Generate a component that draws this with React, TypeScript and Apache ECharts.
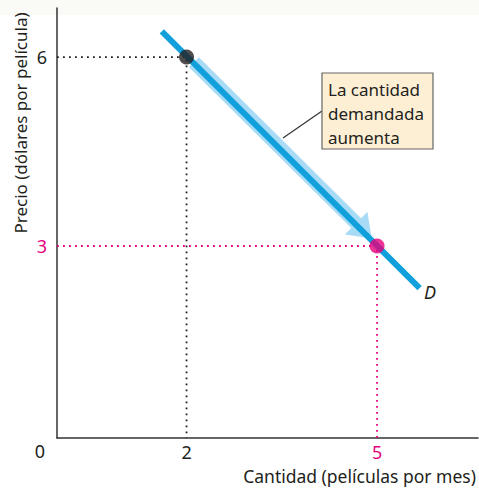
import React, { useEffect, useRef } from "react";
import * as echarts from "echarts";

// Data
const demandLine: number[][] = [
  [1.61, 6.41],
  [5.67, 2.33],
];
const pointA: number[] = [2, 6];
const pointB: number[] = [5, 3];
const arrowSeg: number[] = [2.1, 5.9, 4.9, 3.1];
const xTicks: number[] = [2, 5];
const yTicks: number[] = [3, 6];
const xMin = -0.04;
const yMin = -0.05;

const BLUE = "#12a0dc";
const LIGHT = "#a8dcf6";
const MAGENTA = "#e6007e";
const BLACK = "#231f20";
const FONT = "Noto Sans";

const richLabels = {
  k: { color: "#231f20", fontFamily: FONT, fontSize: 18 },
  m: { color: MAGENTA, fontFamily: FONT, fontSize: 18 },
};

export default function App() {
  const ref = useRef<HTMLDivElement>(null);
  useEffect(() => {
    if (!ref.current) return;
    const chart = echarts.init(ref.current, null, { renderer: "svg" });
    const option: any = {
      animation: false,
      backgroundColor: "#ffffff",
      grid: { left: 57, right: 0, top: 8, bottom: 55 },
      xAxis: {
        type: "value",
        min: xMin,
        max: 6.59,
        name: "Cantidad (películas por mes)",
        nameLocation: "end",
        nameGap: -2,
        nameTextStyle: {
          fontFamily: FONT,
          fontSize: 17.5,
          color: "#231f20",
          align: "right",
          verticalAlign: "top",
          padding: [29, 0, 0, 0],
        },
        axisLine: { onZero: false, lineStyle: { color: "#333", width: 1.5 } },
        axisTick: { show: false },
        splitLine: { show: false },
        axisLabel: {
          customValues: xTicks,
          margin: 5,
          formatter: (v: number) =>
            Number(v) === pointB[0] ? `{m|${v}}` : `{k|${v}}`,
          rich: richLabels,
        },
      },
      yAxis: {
        type: "value",
        min: yMin,
        max: 6.78,
        axisLine: { onZero: false, lineStyle: { color: "#333", width: 1.5 } },
        axisTick: { show: false },
        splitLine: { show: false },
        axisLabel: {
          customValues: yTicks,
          margin: 10,
          formatter: (v: number) =>
            Number(v) === pointB[1] ? `{m|${v}}` : `{k|${v}}`,
          rich: richLabels,
        },
      },
      graphic: [
        {
          type: "rect",
          shape: { x: 0, y: 0, width: 479, height: 15 },
          style: { fill: "#fafaf7" },
          z: -10,
        },
        {
          type: "text",
          x: 40,
          y: 451,
          style: {
            text: "0",
            fontFamily: FONT,
            fontSize: 18,
            fill: "#231f20",
            align: "center",
            verticalAlign: "middle",
          },
        },
        {
          type: "text",
          x: 20,
          y: 123,
          rotation: Math.PI / 2,
          style: {
            text: "Precio (dólares por película)",
            fontFamily: FONT,
            fontSize: 17,
            fill: "#231f20",
            align: "center",
            verticalAlign: "middle",
          },
        },
        {
          type: "line",
          shape: { x1: 283, y1: 138, x2: 322, y2: 111 },
          style: { stroke: "#333", lineWidth: 1.2 },
          z: 20,
        },
        {
          type: "rect",
          shape: { x: 322, y: 73, width: 111, height: 76 },
          style: { fill: "#fdefd4", stroke: "#666", lineWidth: 1.2 },
          z: 20,
        },
        {
          type: "text",
          x: 328,
          y: 77,
          z: 21,
          style: {
            text: "La cantidad\ndemandada\naumenta",
            fontFamily: FONT,
            fontSize: 17,
            lineHeight: 24,
            fill: "#231f20",
            align: "left",
            verticalAlign: "top",
          },
        },
        {
          type: "text",
          x: 430,
          y: 292,
          z: 21,
          style: {
            text: "D",
            fontFamily: FONT,
            fontSize: 18,
            fontStyle: "italic",
            fill: "#231f20",
            align: "center",
            verticalAlign: "middle",
          },
        },
      ],
      series: [
        {
          type: "line",
          data: [[xMin, pointA[1]], pointA, [pointA[0], yMin]],
          symbol: "none",
          lineStyle: { color: BLACK, width: 1.8, type: [1.8, 4.2] },
          z: 2,
        },
        {
          type: "line",
          data: [[xMin, pointB[1]], pointB, [pointB[0], yMin]],
          symbol: "none",
          lineStyle: { color: MAGENTA, width: 1.8, type: [1.8, 4.2] },
          z: 2,
        },
        {
          type: "custom",
          data: [arrowSeg],
          encode: { x: [0, 2], y: [1, 3] },
          z: 3,
          renderItem: (params: any, api: any) => {
            const p1 = api.coord([api.value(0), api.value(1)]);
            const p2 = api.coord([api.value(2), api.value(3)]);
            const dx = p2[0] - p1[0];
            const dy = p2[1] - p1[1];
            const len = Math.sqrt(dx * dx + dy * dy);
            const ux = dx / len;
            const uy = dy / len;
            const nx = -uy;
            const ny = ux;
            const off = -1.5;
            const sw = 7;
            const hw = 16;
            const hl = 22;
            const s = [p1[0] + nx * off, p1[1] + ny * off];
            const t = [p2[0] + nx * off, p2[1] + ny * off];
            const b = [t[0] - ux * hl, t[1] - uy * hl];
            const pts = [
              [s[0] + nx * sw, s[1] + ny * sw],
              [b[0] + nx * sw, b[1] + ny * sw],
              [b[0] + nx * hw, b[1] + ny * hw],
              t,
              [b[0] - nx * hw, b[1] - ny * hw],
              [b[0] - nx * sw, b[1] - ny * sw],
              [s[0] - nx * sw, s[1] - ny * sw],
            ];
            return {
              type: "polygon",
              shape: { points: pts },
              style: { fill: LIGHT },
            };
          },
        },
        {
          type: "line",
          data: demandLine,
          symbol: "none",
          lineStyle: { color: BLUE, width: 6, cap: "butt" },
          z: 4,
        },
        {
          type: "scatter",
          data: [pointA],
          symbolSize: 15,
          itemStyle: { color: BLACK },
          z: 5,
        },
        {
          type: "scatter",
          data: [pointB],
          symbolSize: 15,
          itemStyle: { color: MAGENTA },
          z: 5,
        },
      ],
    };
    chart.setOption(option);
    return () => chart.dispose();
  }, []);
  return (
    <div
      ref={ref}
      style={{ position: "fixed", left: 0, top: 0, width: 479, height: 493 }}
    />
  );
}
